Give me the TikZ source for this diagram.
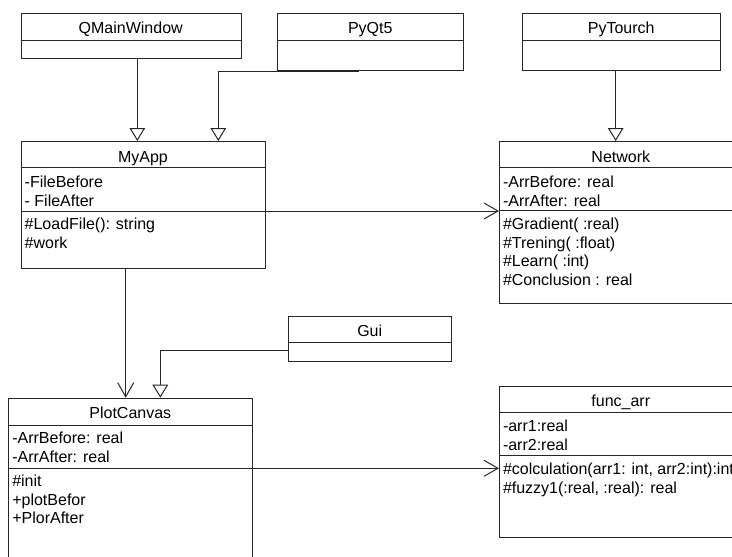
\documentclass[tikz,border=0pt]{standalone}
\usepackage{fontspec}
\setmainfont{Liberation Sans}
\usetikzlibrary{arrows.meta,calc}
\begin{document}
\begin{tikzpicture}[x=1pt,y=-1pt,line width=1pt,
  umlbox/.style={draw=black!85, fill=white, inner sep=0pt, anchor=north west},
  divider/.style={draw=black!85},
  ttl/.style={anchor=base, inner sep=0pt, font=\fontsize{16}{18.6}\selectfont},
  % multi-line lists: the base anchor sits on the baseline of the last line
  lst/.style={anchor=base west, inner sep=0pt, align=left, font=\fontsize{16}{18.6}\selectfont},
  inherit/.style={draw=black!85, -{Triangle[open,length=13pt,width=15.6pt,fill=white]}},
  assoc/.style={draw=black!85, -{Straight Barb[length=14pt,width=16pt]}},
]
\useasboundingbox (0,0) rectangle (732,557);
\clip (0,0) rectangle (732,557);
\fill[white] (0,0) rectangle (732,557);

% class boxes
\node[umlbox, minimum width=220pt,   minimum height=45.6pt]  (qmain)   at (20.7,12.7) {};
\node[umlbox, minimum width=186pt,   minimum height=57.3pt]  (pyqt)    at (277.3,12.7) {};
\node[umlbox, minimum width=197.7pt, minimum height=57.3pt]  (torch)   at (522.3,12.7) {};
\node[umlbox, minimum width=244.3pt, minimum height=126.5pt] (myapp)   at (20.7,141) {};
\node[umlbox, minimum width=243.6pt, minimum height=162.3pt] (network) at (499,141) {};
\node[umlbox, minimum width=162.7pt, minimum height=45pt]    (gui)     at (288.3,316) {};
\node[umlbox, minimum width=244pt,   minimum height=175pt]   (plot)    at (8.3,397.7) {};
\node[umlbox, minimum width=243.6pt, minimum height=150.7pt] (func)    at (499,386) {};

% compartment dividers
\draw[divider] ($(qmain.north west)+(0,27.3)$) -- ($(qmain.north east)+(0,27.3)$);
\draw[divider] ($(pyqt.north west)+(0,27.3)$) -- ($(pyqt.north east)+(0,27.3)$);
\draw[divider] ($(torch.north west)+(0,27.3)$) -- ($(torch.north east)+(0,27.3)$);
\draw[divider] ($(myapp.north west)+(0,26.7)$) -- ($(myapp.north east)+(0,26.7)$);
\draw[divider] ($(myapp.north west)+(0,70)$) -- ($(myapp.north east)+(0,70)$);
\draw[divider] ($(network.north west)+(0,26.7)$) -- ($(network.north east)+(0,26.7)$);
\draw[divider] ($(network.north west)+(0,69.7)$) -- ($(network.north east)+(0,69.7)$);
\draw[divider] ($(gui.north west)+(0,26.7)$) -- ($(gui.north east)+(0,26.7)$);
\draw[divider] ($(plot.north west)+(0,27.3)$) -- ($(plot.north east)+(0,27.3)$);
\draw[divider] ($(plot.north west)+(0,70.6)$) -- ($(plot.north east)+(0,70.6)$);
\draw[divider] ($(func.north west)+(0,26.7)$) -- ($(func.north east)+(0,26.7)$);
\draw[divider] ($(func.north west)+(0,69.7)$) -- ($(func.north east)+(0,69.7)$);

% class names
\node[ttl] (qmainT)   at (130.7,33.4)  {QMainWindow};
\node[ttl] (pyqtT)    at (370.3,33.4)  {PyQt5};
\node[ttl] (torchT)   at (621.2,33.4)  {PyTourch};
\node[ttl] (myappT)   at (142.9,162)   {MyApp};
\node[ttl] (networkT) at (620.8,162)   {Network};
\node[ttl] (guiT)     at (369.7,336.8) {Gui};
\node[ttl] (plotT)    at (130.3,418)   {PlotCanvas};
\node[ttl] (funcT)    at (620.8,406.8) {func\_arr};

% attributes and operations
\node[lst] (myappA)   at (24.2,206)    {-FileBefore\\- FileAfter};
\node[lst] (myappO)   at (24.2,248.3)  {\#LoadFile(): string\\\#work};
\node[lst] (networkA) at (502.5,206)   {-ArrBefore: real\\-ArrAfter: real};
\node[lst] (networkO) at (502.5,285.5) {\#Gradient( :real)\\\#Trening( :float)\\\#Learn( :int)\\\#Conclusion : real};
\node[lst] (plotA)    at (11.8,462)    {-ArrBefore: real\\-ArrAfter: real};
\node[lst] (plotO)    at (11.8,523.9)  {\#init\\+plotBefor\\+PlorAfter};
\node[lst] (funcA)    at (502.5,450.3) {-arr1:real\\-arr2:real};
\node[lst] (funcO)    at (502.5,493.3) {\#colculation(arr1: int, arr2:int):int\\\#fuzzy1(:real, :real): real};

% generalisations
\draw[inherit] ($(qmain.south west)+(116.6,0)$) -- ($(myapp.north west)+(116.6,0)$);
\draw[inherit] ($(pyqt.south west)+(81.7,0)$) -| ($(myapp.north west)+(197.6,0)$);
\draw[inherit] ($(torch.south west)+(93.4,0)$) -- ($(network.north west)+(116.7,0)$);
\draw[inherit] ($(gui.north west)+(0,34.7)$) -| ($(plot.north west)+(152,0)$);

% associations
\draw[assoc] ($(myapp.north east)+(0,70)$) -- ($(network.north west)+(0,70)$);
\draw[assoc] ($(myapp.south west)+(105,0)$) -- ($(plot.north west)+(117.4,0)$);
\draw[assoc] ($(plot.north east)+(0,70.6)$) -- ($(func.north west)+(0,82.3)$);
\end{tikzpicture}
\end{document}
